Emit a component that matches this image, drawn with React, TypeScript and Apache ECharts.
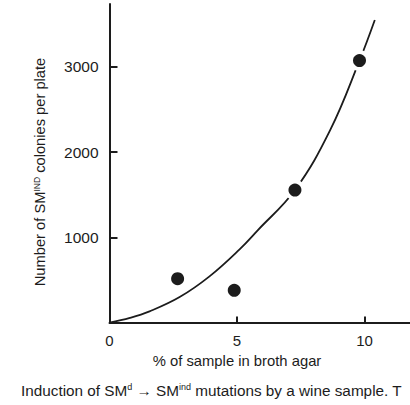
import React, { useEffect, useRef } from "react";
import * as echarts from "echarts";

// Observed counts: % of wine sample in broth agar vs. SMind colonies per plate
const sampleX = [2.67, 4.89, 7.27, 9.8];
const colonies = [516, 379, 1556, 3075];

// Hand-drawn trend curve, traced as points
const curveX = [0, 0.8, 1.57, 2.75, 3.92, 5.1, 5.8, 7.27, 8.65, 9.8, 10.4];
const curveY = [0, 55, 132, 300, 543, 860, 1080, 1556, 2259, 3075, 3552];

const xTicks = [5, 10];
const xLabels = [0, 5, 10];
const yTicks = [1000, 2000, 3000];

const FONT = '"Liberation Sans", Arial, Helvetica, sans-serif';
const INK = "#1c1c1c";

export default function App() {
  const ref = useRef<HTMLDivElement>(null);

  useEffect(() => {
    document.body.style.margin = "0";
    if (!ref.current) return;
    const chart = echarts.init(ref.current, null, { renderer: "svg" });

    const points = sampleX.map((x, i) => [x, colonies[i]]);
    const curve = curveX.map((x, i) => [x, curveY[i]]);

    chart.setOption({
      animation: false,
      backgroundColor: "#fff",
      textStyle: { fontFamily: FONT },
      grid: { left: 109.5, right: 0, top: 4, bottom: 82.4 },
      xAxis: {
        type: "value",
        min: 0,
        max: 11.78,
        axisLine: { lineStyle: { color: INK, width: 2 } },
        axisTick: {
          inside: true,
          length: 6,
          customValues: xTicks,
          lineStyle: { color: INK, width: 2 },
        },
        axisLabel: {
          customValues: xLabels,
          formatter: (v: number) => String(v),
          margin: 10,
          fontSize: 15,
          color: INK,
          fontFamily: FONT,
        },
        splitLine: { show: false },
      },
      yAxis: {
        type: "value",
        min: 0,
        max: 3739,
        axisLine: { show: true, lineStyle: { color: INK, width: 2 } },
        axisTick: {
          show: true,
          inside: true,
          length: 8,
          customValues: yTicks,
          lineStyle: { color: INK, width: 2 },
        },
        axisLabel: {
          customValues: yTicks,
          formatter: (v: number) => String(v),
          margin: 11,
          fontSize: 15.5,
          color: INK,
          fontFamily: FONT,
        },
        splitLine: { show: false },
      },
      series: [
        {
          type: "line",
          data: curve,
          smooth: 0.4,
          showSymbol: false,
          lineStyle: { color: INK, width: 1.8 },
          z: 2,
          silent: true,
        },
        {
          // white halo that breaks the curve around each dot
          type: "scatter",
          data: points,
          symbolSize: 21,
          itemStyle: { color: "#fff", opacity: 1 },
          z: 3,
          silent: true,
        },
        {
          type: "scatter",
          data: points,
          symbolSize: 13,
          itemStyle: { color: INK, opacity: 1 },
          z: 4,
        },
      ],
      graphic: [
        {
          type: "text",
          x: 40,
          y: 172,
          rotation: Math.PI / 2,
          style: {
            text: "Number of SM{sup|IND} colonies per plate",
            font: `14.7px ${FONT}`,
            fill: INK,
            align: "center",
            verticalAlign: "middle",
            rich: {
              sup: { fontSize: 8.5, fontFamily: FONT, fill: INK, verticalAlign: "top" },
            },
          },
        },
        {
          type: "text",
          x: 237,
          y: 361,
          style: {
            text: "% of sample in broth agar",
            font: `14.8px ${FONT}`,
            fill: INK,
            align: "center",
            verticalAlign: "middle",
          },
        },
        {
          type: "text",
          x: 21,
          y: 390,
          style: {
            text: "Induction of SM{sup|d} \u2192 SM{sup|ind} mutations by a wine sample. T",
            font: `15.3px ${FONT}`,
            fill: INK,
            align: "left",
            verticalAlign: "middle",
            rich: {
              sup: { fontSize: 9, fontFamily: FONT, fill: INK, verticalAlign: "top" },
            },
          },
        },
      ],
    });

    return () => chart.dispose();
  }, []);

  return <div ref={ref} style={{ width: 410, height: 405 }} />;
}
